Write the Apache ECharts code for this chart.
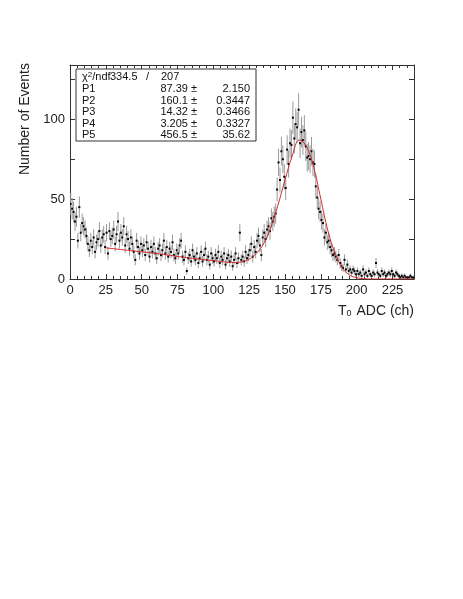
<!DOCTYPE html>
<html>
<head>
<meta charset="utf-8">
<script src="https://cdn.jsdelivr.net/npm/echarts@6/dist/echarts.min.js"></script>
<style>
  html, body { margin: 0; padding: 0; background: #fff; }
  #chart { width: 463px; height: 599px; }
</style>
</head>
<body>
<div id="chart"></div>
<script>
// counts per ADC channel, channel i covers [i, i+1)
const counts = [
  47, 44, 42, 36, 39, 24, 45, 29, 35, 33,
  31, 27, 22, 18, 24, 20, 26, 17, 23, 25,
  30, 21, 26, 28, 20, 29, 16, 30, 25, 27,
  31, 22, 28, 36, 24, 29, 26, 33, 21, 28,
  25, 19, 26, 22, 17, 12, 24, 20, 16, 22,
  18, 21, 15, 23, 19, 14, 20, 17, 22, 16,
  13, 19, 21, 15, 18, 24, 16, 20, 14, 19,
  17, 23, 15, 13, 18, 16, 21, 24, 14, 12,
  17, 5, 13, 15, 11, 18, 14, 12, 16, 10,
  13, 17, 11, 15, 19, 12, 14, 9, 16, 13,
  11, 15, 13, 17, 10, 14, 12, 16, 9, 13,
  15, 11, 14, 8, 12, 16, 10, 13, 29, 12,
  14, 11, 17, 13, 15, 18, 22, 14, 20, 17,
  24, 27, 21, 15, 26, 29, 25, 31, 33, 30,
  38, 36, 39, 41, 56, 73, 62, 80, 75, 64,
  57, 81, 72, 85, 84, 101, 88, 97, 95, 106,
  85, 92, 87, 93, 83, 76, 77, 75, 80, 73,
  72, 58, 51, 44, 42, 37, 35, 26, 29, 23,
  24, 20, 18, 15, 16, 14, 12, 15, 10, 8,
  7, 12, 6, 9, 5, 6, 4, 6, 5, 3,
  5, 3, 4, 2, 6, 3, 4, 2, 5, 3,
  2, 4, 3, 10, 4, 3, 2, 5, 3, 4,
  2, 3, 4, 3, 5, 3, 2, 4, 3, 2,
  1, 2, 1, 2, 1, 0, 1, 2, 1, 1
];

// fitted curve
const fitX = [25, 40, 60, 80, 100, 110, 115, 120, 125, 130, 135, 140, 145, 150, 155, 160, 165, 170, 175, 180, 185, 190, 195, 200, 205, 210, 240];
const fitY = [19.5, 18, 16, 13.5, 11.5, 10.5, 10.3, 10.8, 12.5, 16, 22, 32, 46, 62, 77, 87, 83, 70, 50, 30, 16, 7, 2.5, 0.8, 0.2, 0, 0];

const statNames = ['P1', 'P2', 'P3', 'P4', 'P5'];
const statValues = ['87.39 \u00b1', '160.1 \u00b1', '14.32 \u00b1', '3.205 \u00b1', '456.5 \u00b1'];
const statErrors = ['2.150', '0.3447', '0.3466', '0.3327', '35.62'];

var chart = echarts.init(document.getElementById('chart'));

var font = 'Liberation Sans, Arial, sans-serif';
var axisCol = '#333';

function txt(x, y, s, align) {
  return { type: 'text', x: x, y: y, z: 11,
    style: { text: s, font: '11px ' + font, fill: '#111', textAlign: align || 'left', textVerticalAlign: 'middle' } };
}

// stat box
var statGraphics = [
  { type: 'rect', shape: { x: 76, y: 69, width: 180, height: 72 },
    style: { fill: '#fff', stroke: '#333', lineWidth: 1 }, z: 10 },
  { type: 'text', x: 82, y: 77, z: 11,
    style: { text: '\u03c7{sup|2}/ndf', font: '11px ' + font, fill: '#111', textVerticalAlign: 'middle',
      rich: { sup: { fontSize: 8, fontFamily: font, fill: '#111', padding: [0, 0, 5, 0] } } } },
  txt(110, 77, '334.5'),
  txt(146, 77, '/'),
  txt(161, 77, '207')
];
statNames.forEach(function (n, i) {
  var y = 89 + i * 11.5;
  statGraphics.push(txt(82, y, n), txt(197, y, statValues[i], 'right'), txt(250, y, statErrors[i], 'right'));
});

function frameAxis(extra) {
  return Object.assign({
    type: 'value',
    axisLine: { show: true, onZero: false, lineStyle: { color: axisCol, width: 1 } },
    axisTick: { show: true, inside: true, length: 5, lineStyle: { color: axisCol } },
    splitLine: { show: false }
  }, extra);
}

var option = {
  backgroundColor: '#fff',
  animation: false,
  grid: { left: 70, top: 65, width: 344, height: 214 },
  xAxis: [
    frameAxis({
      position: 'bottom', min: 0, max: 240, interval: 25,
      minorTick: { show: true, splitNumber: 5, length: 3, lineStyle: { color: axisCol } },
      axisLabel: { showMaxLabel: false, margin: 5, color: '#222', fontSize: 13, fontFamily: font }
    }),
    frameAxis({
      position: 'top', min: 0, max: 240, interval: 25,
      minorTick: { show: true, splitNumber: 5, length: 3, lineStyle: { color: axisCol } },
      axisLabel: { show: false }
    })
  ],
  yAxis: [
    frameAxis({
      position: 'left', min: 0, max: 134, interval: 25,
      axisLabel: {
        showMaxLabel: false, margin: 5, color: '#222', fontSize: 13, fontFamily: font,
        formatter: function (v) { return v % 50 === 0 ? String(v) : ''; }
      }
    }),
    frameAxis({
      position: 'right', min: 0, max: 134, interval: 25,
      axisLabel: { show: false }
    })
  ],
  graphic: statGraphics.concat([
    { type: 'text', x: 25, y: 63, rotation: Math.PI / 2,
      style: { text: 'Number of Events', font: '14px ' + font, fill: '#222', textAlign: 'right', textVerticalAlign: 'middle' } },
    { type: 'text', x: 414, y: 311,
      style: {
        text: 'T{s|0} ADC (ch)', font: '14px ' + font, fill: '#222', textAlign: 'right', textVerticalAlign: 'middle',
        rich: { s: { fontSize: 9, fontFamily: font, fill: '#222', padding: [6, 1, 0, 0] } }
      } }
  ]),
  series: [
    {
      type: 'custom',
      xAxisIndex: 0, yAxisIndex: 0,
      clip: true,
      data: counts.map(function (c, i) { return [i + 0.5, c]; }),
      renderItem: function (params, api) {
        var x = api.value(0), y = api.value(1);
        if (y <= 0) return null;
        var e = Math.sqrt(y);
        var p = api.coord([x, y]);
        var lo = api.coord([x, Math.max(0, y - e)]);
        var hi = api.coord([x, y + e]);
        return {
          type: 'group',
          children: [
            { type: 'line', shape: { x1: p[0], y1: lo[1], x2: p[0], y2: hi[1] },
              style: { stroke: '#999', lineWidth: 1 } },
            { type: 'rect', shape: { x: p[0] - 1, y: p[1] - 1, width: 2, height: 2 },
              style: { fill: '#000' } }
          ]
        };
      },
      z: 2
    },
    {
      type: 'line',
      xAxisIndex: 0, yAxisIndex: 0,
      data: fitX.map(function (x, i) { return [x, fitY[i]]; }),
      smooth: 0.4,
      showSymbol: false,
      lineStyle: { color: '#d42a2a', width: 1 },
      z: 3
    }
  ]
};

chart.setOption(option);
</script>
</body>
</html>
